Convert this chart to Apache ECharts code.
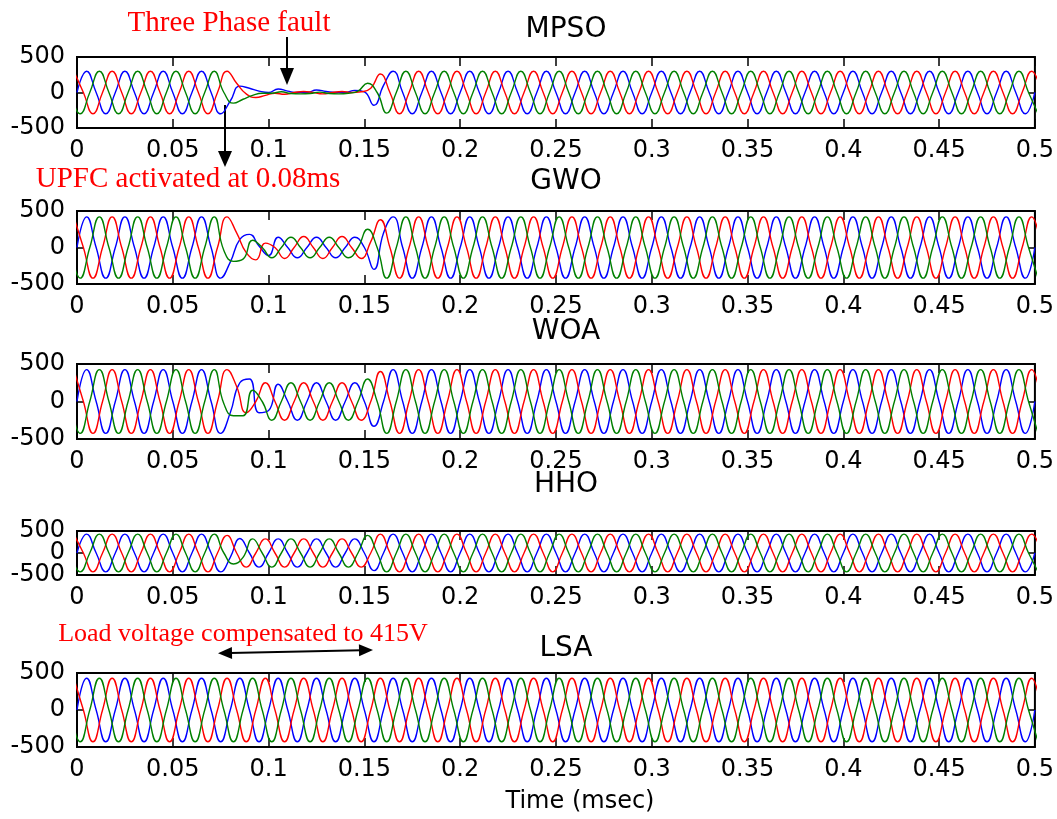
<!DOCTYPE html>
<html><head><meta charset="utf-8">
<script src="https://cdn.jsdelivr.net/npm/echarts@6/dist/echarts.min.js"></script>
<style>html,body{margin:0;padding:0;background:#fff}#c{width:1057px;height:819px}</style>
</head><body><div id="c"></div>
<script>
// ---------------- DATA ----------------
const panelTitles = ['MPSO', 'GWO', 'WOA', 'HHO', 'LSA'];
const xTickLabels = ['0','0.05','0.1','0.15','0.2','0.25','0.3','0.35','0.4','0.45','0.5'];
const yTickLabels = ['-500','0','500'];
const xLabel = 'Time (msec)';
// samples every quarter cycle (peaks and zero crossings) of a 50 Hz phase, seconds
const QUARTER = 0.005;
const startBlue = 0;          // blue: first sample = rising zero crossing at t=0
const startRed = -0.001667;   // red: first sample = peak just before t=0
const startGreen = -0.003333; // green: first sample = falling zero crossing before t=0

const MPSO_blue = [
0,300,0,-300,0,300,0,-300,0,300,0,-300,0,300,0,-300,
-120,90,60,20,0,50,20,0,0,35,15,0,0,30,10,-180,
100,300,0,-300,
0,300,0,-300,0,300,0,-300,0,300,0,-300,0,300,0,-300,
0,300,0,-300,0,300,0,-300,0,300,0,-300,0,300,0,-300,
0,300,0,-300,0,300,0,-300,0,300,0,-300,0,300,0,-300,
0,300,0,-300,0,300,0,-300,0,300,0,-300,0,300,0,-300,
0];
const MPSO_red = [
300,0,-300,0,300,0,-300,0,300,0,-300,0,300,0,-300,0,
300,130,-20,-70,-40,-10,-25,0,15,0,-20,0,15,0,10,60,
260,0,-300,0,
300,0,-300,0,300,0,-300,0,300,0,-300,0,300,0,-300,0,
300,0,-300,0,300,0,-300,0,300,0,-300,0,300,0,-300,0,
300,0,-300,0,300,0,-300,0,300,0,-300,0,300,0,-300,0,
300,0,-300,0,300,0,-300,0,300,0,-300,0,300,0,-300,0,
300,0];
const MPSO_green = [
0,-300,0,300,0,-300,0,300,0,-300,0,300,0,-300,0,300,
0,-150,-95,-40,-10,-10,10,-15,-20,-15,5,-15,-20,-10,20,130,
0,-290,0,300,
0,-300,0,300,0,-300,0,300,0,-300,0,300,0,-300,0,300,
0,-300,0,300,0,-300,0,300,0,-300,0,300,0,-300,0,300,
0,-300,0,300,0,-300,0,300,0,-300,0,300,0,-300,0,300,
0,-300,0,300,0,-300,0,300,0,-300,0,300,0,-300,0,300,
0,-300];

const GWO_blue = [
0,420,0,-420,0,420,0,-420,0,420,0,-420,0,420,0,-420,
-200,110,180,20,-110,140,0,-140,0,140,0,-140,0,140,0,-300,
200,420,0,-420,
0,420,0,-420,0,420,0,-420,0,420,0,-420,0,420,0,-420,
0,420,0,-420,0,420,0,-420,0,420,0,-420,0,420,0,-420,
0,420,0,-420,0,420,0,-420,0,420,0,-420,0,420,0,-420,
0,420,0,-420,0,420,0,-420,0,420,0,-420,0,420,0,-420,
0];
const GWO_red = [
420,0,-420,0,420,0,-420,0,420,0,-420,0,420,0,-420,0,
420,200,-70,-170,60,0,-150,0,150,0,-150,0,150,0,-150,80,
380,0,-420,0,
420,0,-420,0,420,0,-420,0,420,0,-420,0,420,0,-420,0,
420,0,-420,0,420,0,-420,0,420,0,-420,0,420,0,-420,0,
420,0,-420,0,420,0,-420,0,420,0,-420,0,420,0,-420,0,
420,0,-420,0,420,0,-420,0,420,0,-420,0,420,0,-420,0,
420,0];
const GWO_green = [
0,-420,0,420,0,-420,0,420,0,-420,0,420,0,-420,0,420,
-40,-190,-160,100,0,-140,0,140,0,-140,0,140,0,-140,0,250,
0,-420,0,420,
0,-420,0,420,0,-420,0,420,0,-420,0,420,0,-420,0,420,
0,-420,0,420,0,-420,0,420,0,-420,0,420,0,-420,0,420,
0,-420,0,420,0,-420,0,420,0,-420,0,420,0,-420,0,420,
0,-420,0,420,0,-420,0,420,0,-420,0,420,0,-420,0,420,
0,-420];

const WOA_blue = [
0,425,0,-425,0,425,0,-425,0,425,0,-425,0,425,0,-425,
-150,250,300,-150,-120,230,0,-250,0,250,0,-250,0,250,0,-330,
0,425,0,-425,
0,425,0,-425,0,425,0,-425,0,425,0,-425,0,425,0,-425,
0,425,0,-425,0,425,0,-425,0,425,0,-425,0,425,0,-425,
0,425,0,-425,0,425,0,-425,0,425,0,-425,0,425,0,-425,
0,425,0,-425,0,425,0,-425,0,425,0,-425,0,425,0,-425,
0];
const WOA_red = [
425,0,-425,0,425,0,-425,0,425,0,-425,0,425,0,-425,0,
425,200,-150,0,250,0,-250,0,250,0,-250,0,250,0,-250,0,
400,0,-425,0,
425,0,-425,0,425,0,-425,0,425,0,-425,0,425,0,-425,0,
425,0,-425,0,425,0,-425,0,425,0,-425,0,425,0,-425,0,
425,0,-425,0,425,0,-425,0,425,0,-425,0,425,0,-425,0,
425,0,-425,0,425,0,-425,0,425,0,-425,0,425,0,-425,0,
425,0];
const WOA_green = [
0,-425,0,425,0,-425,0,425,0,-425,0,425,0,-425,0,425,
-30,-190,-190,150,0,-250,0,250,0,-250,0,250,0,-250,0,300,
0,-425,0,425,
0,-425,0,425,0,-425,0,425,0,-425,0,425,0,-425,0,425,
0,-425,0,425,0,-425,0,425,0,-425,0,425,0,-425,0,425,
0,-425,0,425,0,-425,0,425,0,-425,0,425,0,-425,0,425,
0,-425,0,425,0,-425,0,425,0,-425,0,425,0,-425,0,425,
0,-425];

const HHO_blue = [
0,430,0,-430,0,430,0,-430,0,430,0,-430,0,430,0,-430,
-100,330,0,-320,0,320,0,-320,0,320,0,-320,0,320,0,-400,
0,430,0,-430,
0,430,0,-430,0,430,0,-430,0,430,0,-430,0,430,0,-430,
0,430,0,-430,0,430,0,-430,0,430,0,-430,0,430,0,-430,
0,430,0,-430,0,430,0,-430,0,430,0,-430,0,430,0,-430,
0,430,0,-430,0,430,0,-430,0,430,0,-430,0,430,0,-430,
0];
const HHO_red = [
430,0,-430,0,430,0,-430,0,430,0,-430,0,430,0,-430,0,
400,0,-320,0,320,0,-320,0,320,0,-320,0,320,0,-320,0,
430,0,-430,0,
430,0,-430,0,430,0,-430,0,430,0,-430,0,430,0,-430,0,
430,0,-430,0,430,0,-430,0,430,0,-430,0,430,0,-430,0,
430,0,-430,0,430,0,-430,0,430,0,-430,0,430,0,-430,0,
430,0,-430,0,430,0,-430,0,430,0,-430,0,430,0,-430,0,
430,0];
const HHO_green = [
0,-430,0,430,0,-430,0,430,0,-430,0,430,0,-430,0,430,
0,-250,-100,320,0,-320,0,320,0,-320,0,320,0,-320,0,400,
0,-430,0,430,
0,-430,0,430,0,-430,0,430,0,-430,0,430,0,-430,0,430,
0,-430,0,430,0,-430,0,430,0,-430,0,430,0,-430,0,430,
0,-430,0,430,0,-430,0,430,0,-430,0,430,0,-430,0,430,
0,-430,0,430,0,-430,0,430,0,-430,0,430,0,-430,0,430,
0,-430];

const LSA_blue = [
0,430,0,-430,0,430,0,-430,0,430,0,-430,0,430,0,-430,
0,430,0,-430,0,430,0,-430,0,430,0,-430,0,430,0,-430,
0,430,0,-430,
0,430,0,-430,0,430,0,-430,0,430,0,-430,0,430,0,-430,
0,430,0,-430,0,430,0,-430,0,430,0,-430,0,430,0,-430,
0,430,0,-430,0,430,0,-430,0,430,0,-430,0,430,0,-430,
0,430,0,-430,0,430,0,-430,0,430,0,-430,0,430,0,-430,
0];
const LSA_red = [
430,0,-430,0,430,0,-430,0,430,0,-430,0,430,0,-430,0,
430,0,-430,0,430,0,-430,0,430,0,-430,0,430,0,-430,0,
430,0,-430,0,
430,0,-430,0,430,0,-430,0,430,0,-430,0,430,0,-430,0,
430,0,-430,0,430,0,-430,0,430,0,-430,0,430,0,-430,0,
430,0,-430,0,430,0,-430,0,430,0,-430,0,430,0,-430,0,
430,0,-430,0,430,0,-430,0,430,0,-430,0,430,0,-430,0,
430,0];
const LSA_green = [
0,-430,0,430,0,-430,0,430,0,-430,0,430,0,-430,0,430,
0,-430,0,430,0,-430,0,430,0,-430,0,430,0,-430,0,430,
0,-430,0,430,
0,-430,0,430,0,-430,0,430,0,-430,0,430,0,-430,0,430,
0,-430,0,430,0,-430,0,430,0,-430,0,430,0,-430,0,430,
0,-430,0,430,0,-430,0,430,0,-430,0,430,0,-430,0,430,
0,-430,0,430,0,-430,0,430,0,-430,0,430,0,-430,0,430,
0,-430];

const annotationFault = 'Three Phase fault';
const annotationUPFC = 'UPFC activated at 0.08ms';
const annotationLoad = 'Load voltage compensated to 415V';

// ---------------- CHART ----------------
const panelData = [
  [MPSO_blue, MPSO_red, MPSO_green],
  [GWO_blue, GWO_red, GWO_green],
  [WOA_blue, WOA_red, WOA_green],
  [HHO_blue, HHO_red, HHO_green],
  [LSA_blue, LSA_red, LSA_green]
];
const layout = [
  {top: 57, height: 71, titleY: 25},
  {top: 211, height: 73, titleY: 177},
  {top: 364, height: 75, titleY: 327},
  {top: 531, height: 44, titleY: 480},
  {top: 673, height: 74, titleY: 644}
];
const LEFT = 77, WIDTH = 968;
const colors = ['#0000ff', '#ff0000', '#008000'];
const starts = [startBlue, startRed, startGreen];
const axisFont = 'DejaVu Sans';

function pairs(vals, start) {
  return vals.map((v, k) => [Math.round((start + k * QUARTER) * 1e6) / 1e6, v]);
}
function xFmt(v) { return xTickLabels[Math.round(v / 0.05)]; }
// outer labels (-500, 500) on one axis, the middle label (0) on a twin axis so none get hidden
function yFmtOuter(v) { return v === 0 ? '' : yTickLabels[Math.round(v / 500) + 1]; }
function yFmtMid(v) { return v === 0 ? yTickLabels[1] : ''; }

const grid = [], xAxis = [], yAxis = [], series = [], title = [];
layout.forEach((L, i) => {
  grid.push({left: LEFT, top: L.top, width: WIDTH, height: L.height, show: true,
    borderColor: '#000', borderWidth: 2, backgroundColor: '#fff', containLabel: false});
  const tick = {inside: true, length: 9, lineStyle: {color: '#000', width: 1.5}};
  const noLine = {show: false, onZero: false};
  xAxis.push({gridIndex: i, type: 'value', min: 0, max: 0.5, interval: 0.05, position: 'bottom',
    axisLine: noLine, splitLine: {show: false}, axisTick: tick,
    axisLabel: {color: '#000', fontSize: 24, fontFamily: axisFont, margin: 11, formatter: xFmt,
      showMinLabel: true, showMaxLabel: true, hideOverlap: false}});
  xAxis.push({gridIndex: i, type: 'value', min: 0, max: 0.5, interval: 0.05, position: 'top',
    axisLine: noLine, splitLine: {show: false}, axisTick: tick, axisLabel: {show: false}});
  const ytick = {inside: true, length: 6, lineStyle: {color: '#000', width: 1.5}};
  const ylab = {color: '#000', fontSize: 24, fontFamily: axisFont, margin: 12, hideOverlap: false};
  yAxis.push({gridIndex: i, type: 'value', min: -500, max: 500, interval: 500, position: 'left',
    axisLine: noLine, splitLine: {show: false}, axisTick: ytick,
    axisLabel: Object.assign({formatter: yFmtOuter, showMinLabel: true, showMaxLabel: true}, ylab)});
  yAxis.push({gridIndex: i, type: 'value', min: -500, max: 500, interval: 500, position: 'right',
    axisLine: noLine, splitLine: {show: false}, axisTick: ytick, axisLabel: {show: false}});
  yAxis.push({gridIndex: i, type: 'value', min: -500, max: 500, interval: 500, position: 'left',
    offset: 0, axisLine: noLine, splitLine: {show: false}, axisTick: {show: false},
    axisLabel: Object.assign({formatter: yFmtMid, showMinLabel: false, showMaxLabel: false}, ylab)});
  panelData[i].forEach((vals, p) => {
    series.push({type: 'line', xAxisIndex: 2 * i, yAxisIndex: 3 * i, data: pairs(vals, starts[p]),
      showSymbol: false, smooth: 0.5, clip: true, silent: true,
      lineStyle: {color: colors[p], width: 1.4}, z: 3 + p});
  });
  title.push({text: panelTitles[i], left: LEFT + WIDTH / 2, top: L.titleY, textAlign: 'center',
    textVerticalAlign: 'middle',
    textStyle: {fontSize: 28, fontWeight: 'normal', fontFamily: axisFont, color: '#000'}});
});

function arrowHead(tip, dir, len, half) {
  const [tx, ty] = tip, [dx, dy] = dir;
  const bx = tx - dx * len, by = ty - dy * len;
  return [[tx, ty], [bx - dy * half, by + dx * half], [bx + dy * half, by - dx * half]];
}
const serif = 'Liberation Serif';
const graphic = [
  {type: 'text', x: 229, y: 23, style: {text: annotationFault, fill: '#ff0000',
    font: '29px "' + serif + '"', align: 'center', verticalAlign: 'middle'}},
  {type: 'line', shape: {x1: 287, y1: 37, x2: 287, y2: 70}, style: {stroke: '#000', lineWidth: 2}},
  {type: 'polygon', shape: {points: arrowHead([287, 85], [0, 1], 17, 7)}, style: {fill: '#000'}},
  {type: 'text', x: 188, y: 179, style: {text: annotationUPFC, fill: '#ff0000',
    font: '29px "' + serif + '"', align: 'center', verticalAlign: 'middle'}},
  {type: 'line', shape: {x1: 225, y1: 105, x2: 225, y2: 153}, style: {stroke: '#000', lineWidth: 2}},
  {type: 'polygon', shape: {points: arrowHead([225, 167], [0, 1], 16, 7)}, style: {fill: '#000'}},
  {type: 'text', x: 243, y: 634, style: {text: annotationLoad, fill: '#ff0000',
    font: '26px "' + serif + '"', align: 'center', verticalAlign: 'middle'}},
  {type: 'line', shape: {x1: 230, y1: 653, x2: 361, y2: 650.3}, style: {stroke: '#000', lineWidth: 2}},
  {type: 'polygon', shape: {points: arrowHead([218, 653.3], [-1, 0.02], 14, 6)}, style: {fill: '#000'}},
  {type: 'polygon', shape: {points: arrowHead([373, 650], [1, -0.02], 14, 6)}, style: {fill: '#000'}},
  {type: 'text', x: 580, y: 802, style: {text: xLabel, fill: '#000',
    font: '24px "' + axisFont + '"', align: 'center', verticalAlign: 'middle'}}
];

const chart = echarts.init(document.getElementById('c'), null, {renderer: 'canvas'});
chart.setOption({
  animation: false,
  backgroundColor: '#fff',
  title, grid, xAxis, yAxis, series, graphic
});
</script></body></html>
